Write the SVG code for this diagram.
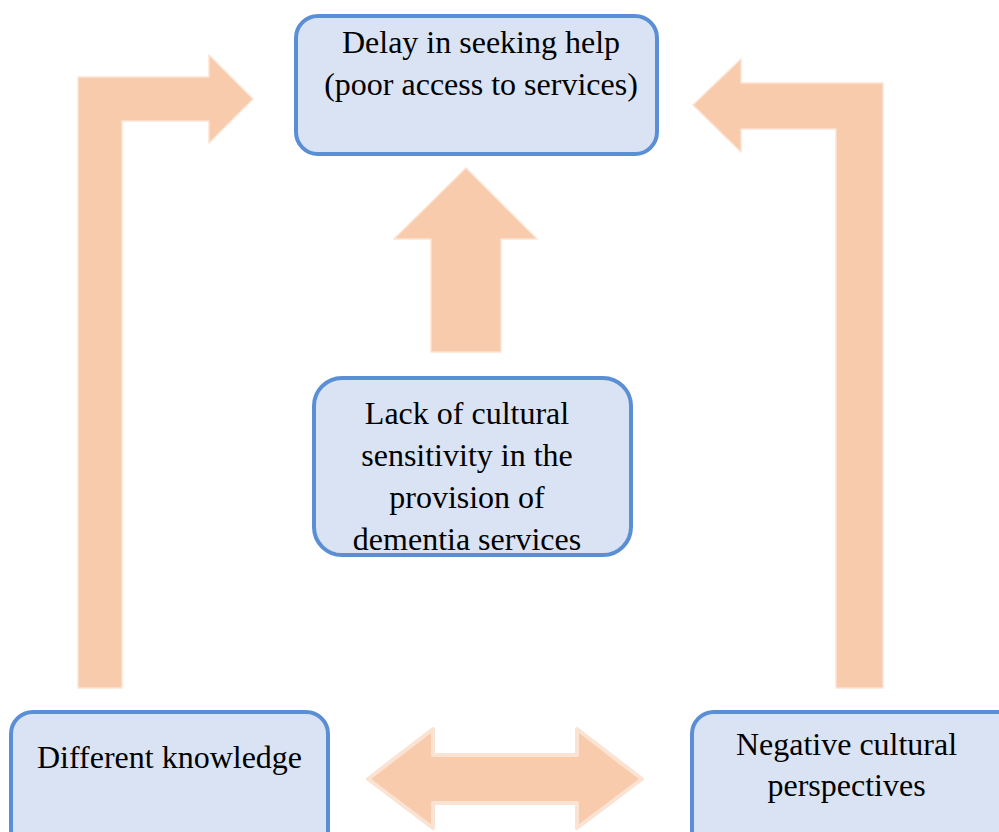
<svg xmlns="http://www.w3.org/2000/svg" width="999" height="832" viewBox="0 0 999 832">
<style>
.box{fill:#dae3f3;stroke:#5a8ed5;stroke-width:4}
.arr{fill:#f8cbad;stroke:#fbe3d3;stroke-width:1.5;stroke-linejoin:round}
.arr2{fill:#f8cbad;stroke:#fbe3d3;stroke-width:4;stroke-linejoin:round}
text{font-family:"Liberation Serif","Times New Roman",serif;font-size:32px;fill:#000;text-anchor:middle}
</style>
<rect width="999" height="832" fill="#fff"/>
<g id="connectors">
<polygon class="arr" points="78,688 78,77 209,77 209,55 253,99 209,143 209,121 122,121 122,688"/>
<polygon class="arr" points="883,688 883,83 741,83 741,59 693,105 741,152 741,129 836,129 836,688"/>
<polygon class="arr" points="431,352 431,239 394,239 466,168 537,239 501,239 501,352"/>
<polygon class="arr2" points="368,779 433,729 433,755 577,755 577,729 642,779 577,828 577,803 433,803 433,828"/>
</g>
<g id="node-delay">
<rect class="box" x="296" y="16" width="361" height="138" rx="22"/>
<text x="481" y="53">Delay in seeking help</text>
<text x="481" y="95">(poor access to services)</text>
</g>
<g id="node-lack">
<rect class="box" x="314" y="378" width="317" height="177" rx="28"/>
<text x="467" y="424">Lack of cultural</text>
<text x="467" y="466">sensitivity in the</text>
<text x="467" y="508">provision of</text>
<text x="467" y="550">dementia services</text>
</g>
<g id="node-knowledge">
<rect class="box" x="11" y="712" width="317" height="140" rx="22"/>
<text x="169.5" y="768">Different knowledge</text>
</g>
<g id="node-negative">
<rect class="box" x="692" y="712" width="330" height="140" rx="22"/>
<text x="846.5" y="755">Negative cultural</text>
<text x="846.5" y="796">perspectives</text>
</g>
</svg>
